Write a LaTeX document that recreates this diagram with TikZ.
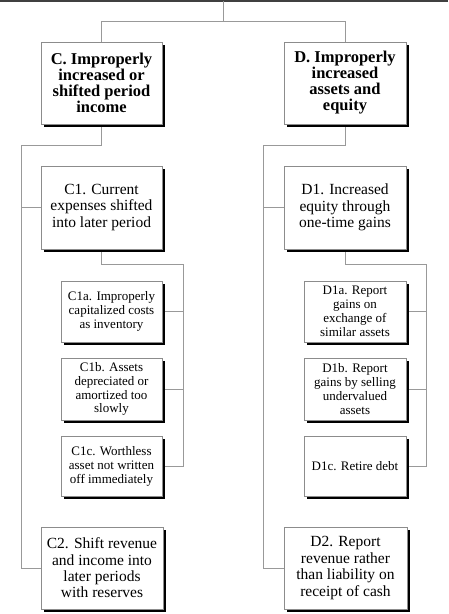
\documentclass[tikz,border=0pt]{standalone}
\usepackage{fontspec}
\setmainfont{Liberation Serif}
\usetikzlibrary{shadows}
\begin{document}
\begin{tikzpicture}[x=1pt,y=-1pt,
  conn/.style={draw=black!40,line width=0.8pt},
  box/.style={draw=black!45,line width=0.7pt,fill=white,align=center,inner sep=0pt,
    drop shadow={shadow xshift=3pt,shadow yshift=-3pt,fill=black,opacity=1}},
  topbox/.style={box,minimum width=121pt,minimum height=82pt,font=\fontsize{16.5}{16}\selectfont\bfseries},
  midbox/.style={box,minimum width=121pt,minimum height=83pt,font=\fontsize{15.5}{16.4}\selectfont},
  smallbox/.style={box,minimum width=101pt,minimum height=61pt,font=\fontsize{13}{13.9}\selectfont}
]
\useasboundingbox (0,0) rectangle (448,614);
\fill[white] (0,0) rectangle (448,614);

% coordinates for connectors
\coordinate (topL) at (0,1);
\coordinate (topR) at (448,1);
\coordinate (topM) at (223,1);
\coordinate (topJ) at (223,21);
\coordinate (cTop) at (101.5,21);
\coordinate (dTop) at (345,21);
\coordinate (cBend) at (101.5,145);
\coordinate (cRail) at (21,145);
\coordinate (dBend) at (345,145);
\coordinate (dRail) at (263,145);
\coordinate (c1Bend) at (101.5,264);
\coordinate (c1Rail) at (183,264);
\coordinate (d1Bend) at (345,264);
\coordinate (d1Rail) at (426,264);

% connectors (drawn first so boxes and shadows sit on top)
\draw[line width=2pt,draw=black!75] (topL) -- (topR);
\draw[conn] (topM) -- (topJ);
\draw[conn] (cTop) -- (dTop);
\draw[conn] (cTop) -- (101.5,42);
\draw[conn] (dTop) -- (345,42);

\draw[conn] (101.5,124) -- (cBend) -- (cRail) -- (21,568) -- (41,568);
\draw[conn] (21,207.5) -- (41,207.5);
\draw[conn] (345,124) -- (dBend) -- (dRail) -- (263,568) -- (284,568);
\draw[conn] (263,207.5) -- (284,207.5);

\draw[conn] (101.5,249) -- (c1Bend) -- (c1Rail) -- (183,466) -- (162,466);
\draw[conn] (183,311.5) -- (162,311.5);
\draw[conn] (183,389) -- (162,389);
\draw[conn] (345,249) -- (d1Bend) -- (d1Rail) -- (426,466) -- (406,466);
\draw[conn] (426,311.5) -- (406,311.5);
\draw[conn] (426,389) -- (406,389);

% boxes
\node[topbox] (C) at (101.5,83) {C. Improperly\\increased or\\shifted period\\income};
\node[topbox,minimum width=122pt] (D) at (345,83) {D. Improperly\\increased\\assets and\\equity};

\node[midbox] (C1) at (101.5,207.5) {C1. Current\\expenses shifted\\into later period};
\node[midbox,minimum width=122pt] (D1) at (345,207.5) {D1. Increased\\equity through\\one-time gains};

\node[smallbox] (C1a) at (111.5,311.5) {C1a. Improperly\\capitalized costs\\as inventory};
\node[smallbox,minimum height=62pt] (C1b) at (111.5,389) {C1b. Assets\\depreciated or\\amortized too\\slowly};
\node[smallbox,minimum height=60pt] (C1c) at (111.5,466) {C1c. Worthless\\asset not written\\off immediately};

\node[smallbox,minimum width=102pt] (D1a) at (355,311.5) {D1a. Report\\gains on\\exchange of\\similar assets};
\node[smallbox,minimum width=102pt,minimum height=62pt] (D1b) at (355,389) {D1b. Report\\gains by selling\\undervalued\\assets};
\node[smallbox,minimum width=102pt,minimum height=60pt] (D1c) at (355,466) {D1c. Retire debt};

\node[midbox,minimum width=122pt,minimum height=82pt] (C2) at (102,568) {C2. Shift revenue\\and income into\\later periods\\with reserves};
\node[midbox,minimum width=123pt,minimum height=82pt] (D2) at (345.5,568) {D2. Report\\revenue rather\\than liability on\\receipt of cash};
\end{tikzpicture}
\end{document}
